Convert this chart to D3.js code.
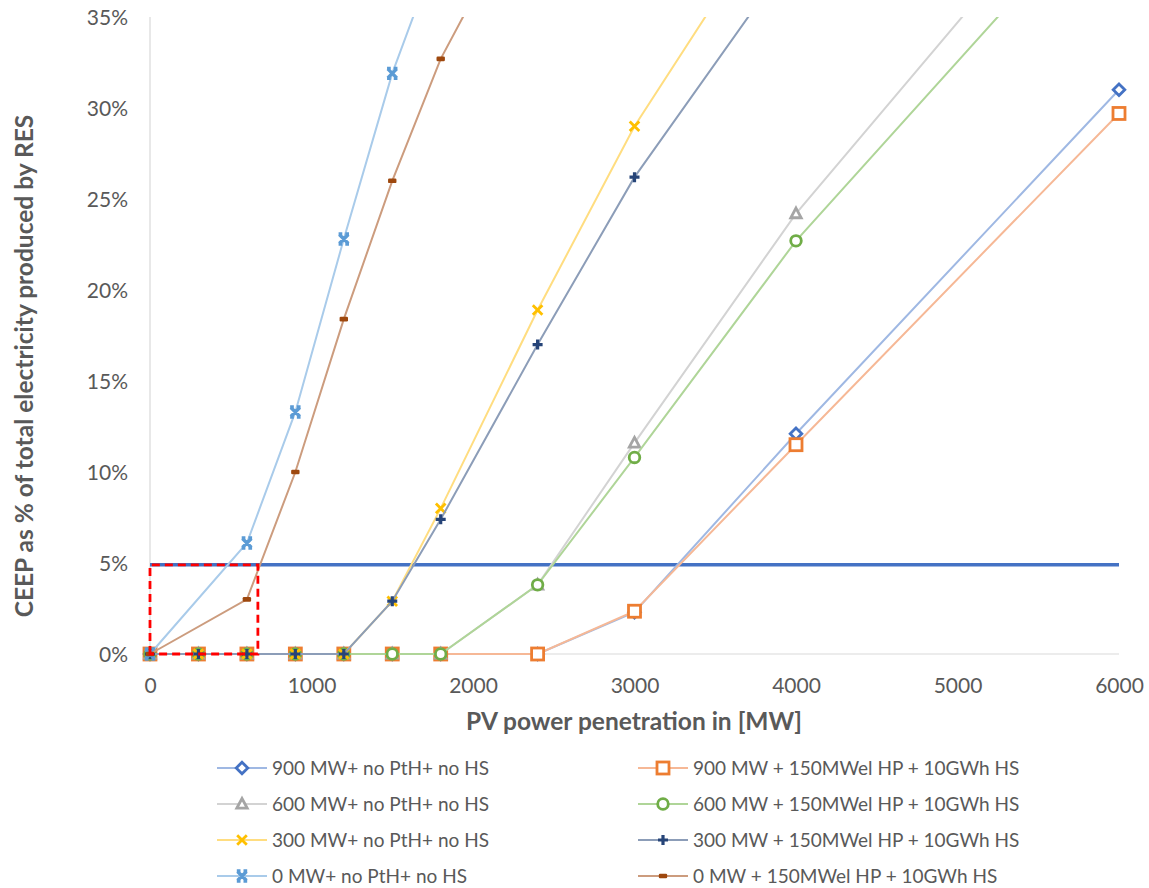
<!DOCTYPE html>
<html>
<head>
<meta charset="utf-8">
<script src="https://cdn.jsdelivr.net/npm/d3@7"></script>
<style>
  body { margin: 0; background: #fff; }
  svg { display: block; }
  text { font-family: Lato, "Open Sans", sans-serif; fill: #595959; }
</style>
</head>
<body>
<svg id="chart" width="1149" height="888"></svg>
<script>
// ---- Data ----
const xTicks = [0, 1000, 2000, 3000, 4000, 5000, 6000];
const yTicks = [0, 5, 10, 15, 20, 25, 30, 35];

const xFull = [0, 300, 600, 900, 1200, 1500, 1800, 2400, 3000, 4000, 6000];
const xZero = [0, 600, 900, 1200, 1500, 1800, 2400];

const s900NoPtH  = [0, 0, 0, 0, 0, 0, 0, 0, 2.3, 12.1, 31.0];
const s900HP     = [0, 0, 0, 0, 0, 0, 0, 0, 2.35, 11.5, 29.7];
const s600NoPtH  = [0, 0, 0, 0, 0, 0, 0, 3.8, 11.6, 24.2, 45.2];
const s600HP     = [0, 0, 0, 0, 0, 0, 0, 3.8, 10.8, 22.7, 42.4];
const s300NoPtH  = [0, 0, 0, 0, 0, 2.9, 8.0, 18.9, 29.0, 42.7, 60];
const s300HP     = [0, 0, 0, 0, 0, 2.9, 7.4, 17.0, 26.2, 38.7, 55];
const s0NoPtH    = [0, 6.1, 13.3, 22.8, 31.9, 39.1, 50];
const s0HP       = [0, 3.0, 10.0, 18.4, 26.0, 32.7, 42.7];

const seriesNames = [
  "900 MW+ no PtH+ no HS", "900 MW + 150MWel HP + 10GWh HS",
  "600 MW+ no PtH+ no HS", "600 MW + 150MWel HP + 10GWh HS",
  "300 MW+ no PtH+ no HS", "300 MW + 150MWel HP + 10GWh HS",
  "0 MW+ no PtH+ no HS",   "0 MW + 150MWel HP + 10GWh HS"
];
const seriesX = [xFull, xFull, xFull, xFull, xFull, xFull, xZero, xZero];
const seriesY = [s900NoPtH, s900HP, s600NoPtH, s600HP, s300NoPtH, s300HP, s0NoPtH, s0HP];
const thresholdValue = 4.9;   // horizontal 5% limit line
const boxX = [0, 668];        // red dashed box extent (MW)

// ---- Style ----
const markerColors = ["#4472C4", "#ED7D31", "#A5A5A5", "#70AD47", "#FFC000", "#264478", "#5B9BD5", "#9E480E"];
const lineColors   = ["#9FB8E3", "#F6B896", "#D3D3D3", "#AFD598", "#FFDD80", "#8C9DB8", "#A9CBEA", "#CC9C7E"];
const markerTypes  = ["diamond", "square", "triangle", "circle", "x", "plus", "star", "dash"];

const svg = d3.select("#chart");
const m = { left: 150, right: 1119, top: 17, bottom: 654 };
const x = d3.scaleLinear().domain([0, 6000]).range([m.left, m.right]);
const y = d3.scaleLinear().domain([0, 35]).range([m.bottom, m.top]);

svg.append("defs").append("clipPath").attr("id", "plotClip")
  .append("rect").attr("x", m.left - 10).attr("y", m.top)
  .attr("width", m.right - m.left + 20).attr("height", m.bottom - m.top + 12);

// axes lines
svg.append("line").attr("x1", x(0)).attr("x2", x(0)).attr("y1", y(35)).attr("y2", y(0))
  .attr("stroke", "#d9d9d9").attr("stroke-width", 1.2);
svg.append("line").attr("x1", x(0)).attr("x2", x(6000)).attr("y1", y(0)).attr("y2", y(0))
  .attr("stroke", "#d9d9d9").attr("stroke-width", 1.2);

// y ticks
const yAxis = d3.axisLeft(y).tickValues(yTicks).tickFormat(d => d + "%").tickSize(0).tickPadding(22);
const gy = svg.append("g").attr("transform", `translate(${m.left},0)`).call(yAxis);
gy.select(".domain").remove();
gy.selectAll("text").style("font-size", "21px").style("font-family", "Lato").attr("fill", "#595959").attr("dy", "0.35em");

// x ticks
const xAxis = d3.axisBottom(x).tickValues(xTicks).tickFormat(d3.format("d")).tickSize(0).tickPadding(24);
const gx = svg.append("g").attr("transform", `translate(0,${m.bottom})`).call(xAxis);
gx.select(".domain").remove();
gx.selectAll("text").style("font-size", "21px").style("font-family", "Lato").attr("fill", "#595959");

// axis titles
svg.append("text").attr("x", 634).attr("y", 730).attr("text-anchor", "middle")
  .style("font-size", "24.5px").style("font-weight", "bold").text("PV power penetration in [MW]");
svg.append("text").attr("transform", "translate(33,366) rotate(-90)").attr("text-anchor", "middle")
  .style("font-size", "24.5px").style("font-weight", "bold").text("CEEP as % of total electricity produced by RES");

// threshold line
svg.append("line").attr("x1", x(0)).attr("x2", x(6000)).attr("y1", y(thresholdValue)).attr("y2", y(thresholdValue))
  .attr("stroke", "#4472C4").attr("stroke-width", 3.5);

// marker drawing
function drawMarker(g, type, color) {
  const sw = 2.8;
  switch (type) {
    case "diamond":
      g.append("path").attr("d", "M0,-5.8L5.8,0L0,5.8L-5.8,0Z").attr("fill", "#fff").attr("stroke", color).attr("stroke-width", sw); break;
    case "square":
      g.append("rect").attr("x", -6).attr("y", -6).attr("width", 12).attr("height", 12).attr("fill", "#fff").attr("stroke", color).attr("stroke-width", sw); break;
    case "triangle":
      g.append("path").attr("d", "M0,-5.5L5.2,4.2L-5.2,4.2Z").attr("fill", "#fff").attr("stroke", color).attr("stroke-width", sw); break;
    case "circle":
      g.append("circle").attr("r", 5.3).attr("fill", "#fff").attr("stroke", color).attr("stroke-width", sw); break;
    case "x":
      g.append("path").attr("d", "M-4.8,-4.8L4.8,4.8M4.8,-4.8L-4.8,4.8").attr("stroke", color).attr("stroke-width", 2.8).attr("fill", "none"); break;
    case "plus":
      g.append("path").attr("d", "M-5,0L5,0M0,-5L0,5").attr("stroke", color).attr("stroke-width", 3.2).attr("fill", "none"); break;
    case "star":
      g.append("path").attr("d", "M-4.5,-4.5L4.5,4.5M4.5,-4.5L-4.5,4.5M-5.2,-5L-1.5,-5M1.5,-5L5.2,-5M-5.2,5L-1.5,5M1.5,5L5.2,5").attr("stroke", color).attr("stroke-width", 3.4).attr("fill", "none"); break;
    case "dash":
      g.append("rect").attr("x", -4.2).attr("y", -2.3).attr("width", 8.4).attr("height", 4.6).attr("rx", 1.2).attr("fill", color); break;
  }
}

// series
const line = d3.line().x(d => x(d[0])).y(d => y(d[1]));
const plot = svg.append("g").attr("clip-path", "url(#plotClip)");
seriesY.forEach((vals, i) => {
  const pts = vals.map((v, j) => [seriesX[i][j], v]);
  const g = plot.append("g");
  g.append("path").datum(pts).attr("d", line).attr("fill", "none")
    .attr("stroke", lineColors[i]).attr("stroke-width", 2);
  pts.filter(p => p[1] <= 35).forEach(p => {
    drawMarker(g.append("g").attr("transform", `translate(${x(p[0])},${y(p[1])})`), markerTypes[i], markerColors[i]);
  });
});

// red dashed box
svg.append("path")
  .attr("d", `M${x(boxX[0])},${y(0)}L${x(boxX[0])},${y(thresholdValue)}L${x(boxX[1])},${y(thresholdValue)}L${x(boxX[1])},${y(0)}Z`)
  .attr("fill", "none").attr("stroke", "#FF0000").attr("stroke-width", 2.8).attr("stroke-dasharray", "8,5");

// legend
const legendCols = [217, 638];
const legendRows = [768, 804, 840, 876];
seriesNames.forEach((name, i) => {
  const cx = legendCols[i % 2], cy = legendRows[Math.floor(i / 2)];
  const g = svg.append("g").attr("transform", `translate(${cx},${cy})`);
  g.append("line").attr("x1", 0).attr("x2", 50).attr("y1", 0).attr("y2", 0)
    .attr("stroke", lineColors[i]).attr("stroke-width", 2);
  drawMarker(g.append("g").attr("transform", "translate(25,0)"), markerTypes[i], markerColors[i]);
  g.append("text").attr("x", 55).attr("y", 0).attr("dy", "0.35em").style("font-size", "19px").text(name);
});
</script>
</body>
</html>
